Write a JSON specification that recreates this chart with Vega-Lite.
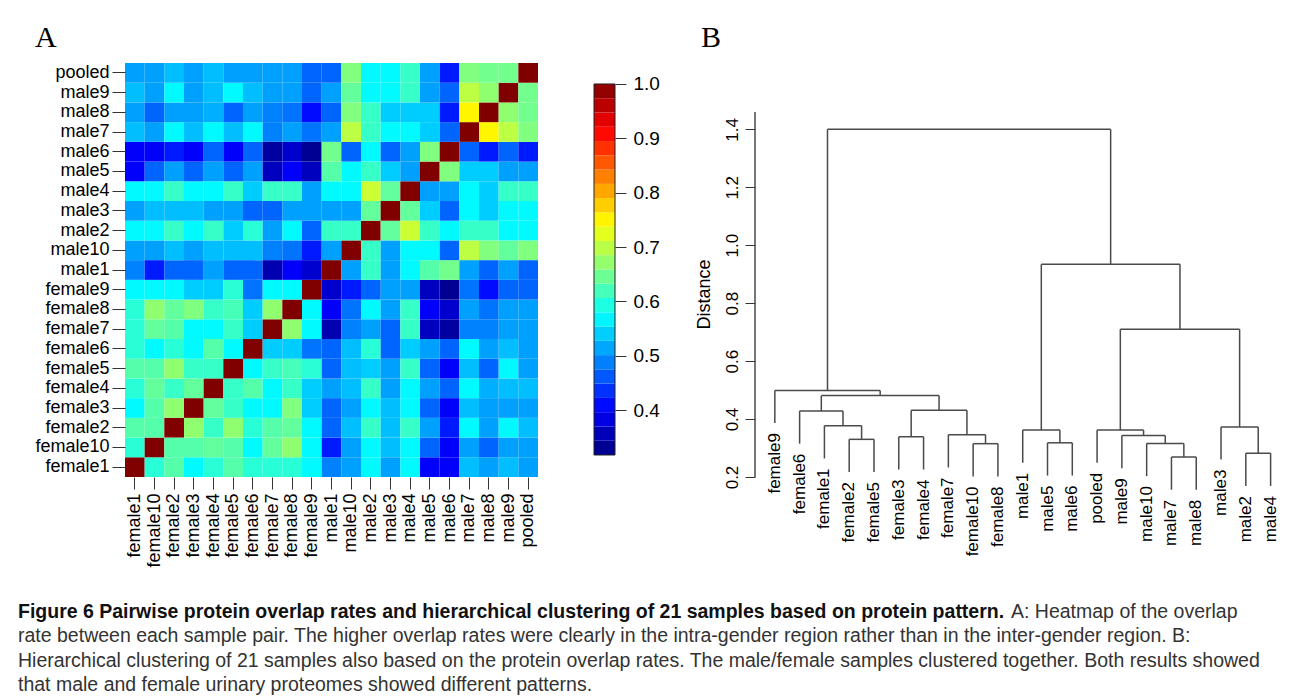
{
  "$schema": "https://vega.github.io/schema/vega-lite/v6.json",
  "padding": {"left": 18, "top": 23, "right": 2, "bottom": 2},
  "background": "white",
  "config": {
    "view": {"stroke": null},
    "font": "Liberation Sans",
    "axis": {"labelFont": "Liberation Sans", "titleFont": "Liberation Sans", "labelColor": "#000", "titleColor": "#000", "tickColor": "#333", "domainColor": "#333", "grid": false},
    "title": {"font": "Liberation Serif", "fontWeight": "normal", "fontSize": 30, "color": "#000", "anchor": "start", "frame": "bounds"}
  },
  "datasets": {
    "heat": [
      {"r":"female1","c":"female1","v":1},{"r":"female1","c":"female10","v":0.60},{"r":"female1","c":"female2","v":0.63},{"r":"female1","c":"female3","v":0.57},{"r":"female1","c":"female4","v":0.60},{"r":"female1","c":"female5","v":0.63},{"r":"female1","c":"female6","v":0.60},{"r":"female1","c":"female7","v":0.60},{"r":"female1","c":"female8","v":0.60},{"r":"female1","c":"female9","v":0.57},{"r":"female1","c":"male1","v":0.49},{"r":"female1","c":"male10","v":0.51},{"r":"female1","c":"male2","v":0.57},{"r":"female1","c":"male3","v":0.51},{"r":"female1","c":"male4","v":0.57},{"r":"female1","c":"male5","v":0.40},{"r":"female1","c":"male6","v":0.40},{"r":"female1","c":"male7","v":0.53},{"r":"female1","c":"male8","v":0.51},{"r":"female1","c":"male9","v":0.53},{"r":"female1","c":"pooled","v":0.51},
      {"r":"female10","c":"female1","v":0.60},{"r":"female10","c":"female10","v":1},{"r":"female10","c":"female2","v":0.63},{"r":"female10","c":"female3","v":0.63},{"r":"female10","c":"female4","v":0.64},{"r":"female10","c":"female5","v":0.63},{"r":"female10","c":"female6","v":0.57},{"r":"female10","c":"female7","v":0.64},{"r":"female10","c":"female8","v":0.67},{"r":"female10","c":"female9","v":0.57},{"r":"female10","c":"male1","v":0.42},{"r":"female10","c":"male10","v":0.51},{"r":"female10","c":"male2","v":0.57},{"r":"female10","c":"male3","v":0.53},{"r":"female10","c":"male4","v":0.57},{"r":"female10","c":"male5","v":0.47},{"r":"female10","c":"male6","v":0.40},{"r":"female10","c":"male7","v":0.51},{"r":"female10","c":"male8","v":0.47},{"r":"female10","c":"male9","v":0.51},{"r":"female10","c":"pooled","v":0.51},
      {"r":"female2","c":"female1","v":0.63},{"r":"female2","c":"female10","v":0.63},{"r":"female2","c":"female2","v":1},{"r":"female2","c":"female3","v":0.67},{"r":"female2","c":"female4","v":0.61},{"r":"female2","c":"female5","v":0.67},{"r":"female2","c":"female6","v":0.60},{"r":"female2","c":"female7","v":0.63},{"r":"female2","c":"female8","v":0.64},{"r":"female2","c":"female9","v":0.57},{"r":"female2","c":"male1","v":0.47},{"r":"female2","c":"male10","v":0.53},{"r":"female2","c":"male2","v":0.61},{"r":"female2","c":"male3","v":0.53},{"r":"female2","c":"male4","v":0.61},{"r":"female2","c":"male5","v":0.51},{"r":"female2","c":"male6","v":0.42},{"r":"female2","c":"male7","v":0.57},{"r":"female2","c":"male8","v":0.51},{"r":"female2","c":"male9","v":0.57},{"r":"female2","c":"pooled","v":0.53},
      {"r":"female3","c":"female1","v":0.57},{"r":"female3","c":"female10","v":0.63},{"r":"female3","c":"female2","v":0.67},{"r":"female3","c":"female3","v":1},{"r":"female3","c":"female4","v":0.64},{"r":"female3","c":"female5","v":0.61},{"r":"female3","c":"female6","v":0.57},{"r":"female3","c":"female7","v":0.57},{"r":"female3","c":"female8","v":0.66},{"r":"female3","c":"female9","v":0.54},{"r":"female3","c":"male1","v":0.47},{"r":"female3","c":"male10","v":0.51},{"r":"female3","c":"male2","v":0.57},{"r":"female3","c":"male3","v":0.53},{"r":"female3","c":"male4","v":0.57},{"r":"female3","c":"male5","v":0.47},{"r":"female3","c":"male6","v":0.40},{"r":"female3","c":"male7","v":0.53},{"r":"female3","c":"male8","v":0.51},{"r":"female3","c":"male9","v":0.51},{"r":"female3","c":"pooled","v":0.51},
      {"r":"female4","c":"female1","v":0.60},{"r":"female4","c":"female10","v":0.64},{"r":"female4","c":"female2","v":0.61},{"r":"female4","c":"female3","v":0.64},{"r":"female4","c":"female4","v":1},{"r":"female4","c":"female5","v":0.61},{"r":"female4","c":"female6","v":0.63},{"r":"female4","c":"female7","v":0.57},{"r":"female4","c":"female8","v":0.61},{"r":"female4","c":"female9","v":0.54},{"r":"female4","c":"male1","v":0.51},{"r":"female4","c":"male10","v":0.53},{"r":"female4","c":"male2","v":0.61},{"r":"female4","c":"male3","v":0.51},{"r":"female4","c":"male4","v":0.57},{"r":"female4","c":"male5","v":0.51},{"r":"female4","c":"male6","v":0.47},{"r":"female4","c":"male7","v":0.57},{"r":"female4","c":"male8","v":0.52},{"r":"female4","c":"male9","v":0.53},{"r":"female4","c":"pooled","v":0.53},
      {"r":"female5","c":"female1","v":0.63},{"r":"female5","c":"female10","v":0.63},{"r":"female5","c":"female2","v":0.67},{"r":"female5","c":"female3","v":0.61},{"r":"female5","c":"female4","v":0.61},{"r":"female5","c":"female5","v":1},{"r":"female5","c":"female6","v":0.57},{"r":"female5","c":"female7","v":0.61},{"r":"female5","c":"female8","v":0.62},{"r":"female5","c":"female9","v":0.60},{"r":"female5","c":"male1","v":0.47},{"r":"female5","c":"male10","v":0.53},{"r":"female5","c":"male2","v":0.54},{"r":"female5","c":"male3","v":0.51},{"r":"female5","c":"male4","v":0.61},{"r":"female5","c":"male5","v":0.47},{"r":"female5","c":"male6","v":0.40},{"r":"female5","c":"male7","v":0.53},{"r":"female5","c":"male8","v":0.47},{"r":"female5","c":"male9","v":0.57},{"r":"female5","c":"pooled","v":0.51},
      {"r":"female6","c":"female1","v":0.60},{"r":"female6","c":"female10","v":0.57},{"r":"female6","c":"female2","v":0.60},{"r":"female6","c":"female3","v":0.57},{"r":"female6","c":"female4","v":0.63},{"r":"female6","c":"female5","v":0.57},{"r":"female6","c":"female6","v":1},{"r":"female6","c":"female7","v":0.54},{"r":"female6","c":"female8","v":0.54},{"r":"female6","c":"female9","v":0.48},{"r":"female6","c":"male1","v":0.47},{"r":"female6","c":"male10","v":0.53},{"r":"female6","c":"male2","v":0.60},{"r":"female6","c":"male3","v":0.47},{"r":"female6","c":"male4","v":0.54},{"r":"female6","c":"male5","v":0.51},{"r":"female6","c":"male6","v":0.47},{"r":"female6","c":"male7","v":0.57},{"r":"female6","c":"male8","v":0.51},{"r":"female6","c":"male9","v":0.53},{"r":"female6","c":"pooled","v":0.51},
      {"r":"female7","c":"female1","v":0.60},{"r":"female7","c":"female10","v":0.64},{"r":"female7","c":"female2","v":0.63},{"r":"female7","c":"female3","v":0.57},{"r":"female7","c":"female4","v":0.57},{"r":"female7","c":"female5","v":0.61},{"r":"female7","c":"female6","v":0.54},{"r":"female7","c":"female7","v":1},{"r":"female7","c":"female8","v":0.67},{"r":"female7","c":"female9","v":0.57},{"r":"female7","c":"male1","v":0.35},{"r":"female7","c":"male10","v":0.49},{"r":"female7","c":"male2","v":0.51},{"r":"female7","c":"male3","v":0.47},{"r":"female7","c":"male4","v":0.61},{"r":"female7","c":"male5","v":0.36},{"r":"female7","c":"male6","v":0.34},{"r":"female7","c":"male7","v":0.49},{"r":"female7","c":"male8","v":0.49},{"r":"female7","c":"male9","v":0.51},{"r":"female7","c":"pooled","v":0.51},
      {"r":"female8","c":"female1","v":0.60},{"r":"female8","c":"female10","v":0.67},{"r":"female8","c":"female2","v":0.64},{"r":"female8","c":"female3","v":0.66},{"r":"female8","c":"female4","v":0.61},{"r":"female8","c":"female5","v":0.62},{"r":"female8","c":"female6","v":0.54},{"r":"female8","c":"female7","v":0.67},{"r":"female8","c":"female8","v":1},{"r":"female8","c":"female9","v":0.57},{"r":"female8","c":"male1","v":0.40},{"r":"female8","c":"male10","v":0.48},{"r":"female8","c":"male2","v":0.57},{"r":"female8","c":"male3","v":0.51},{"r":"female8","c":"male4","v":0.61},{"r":"female8","c":"male5","v":0.40},{"r":"female8","c":"male6","v":0.37},{"r":"female8","c":"male7","v":0.51},{"r":"female8","c":"male8","v":0.48},{"r":"female8","c":"male9","v":0.51},{"r":"female8","c":"pooled","v":0.51},
      {"r":"female9","c":"female1","v":0.57},{"r":"female9","c":"female10","v":0.57},{"r":"female9","c":"female2","v":0.57},{"r":"female9","c":"female3","v":0.54},{"r":"female9","c":"female4","v":0.54},{"r":"female9","c":"female5","v":0.60},{"r":"female9","c":"female6","v":0.48},{"r":"female9","c":"female7","v":0.57},{"r":"female9","c":"female8","v":0.57},{"r":"female9","c":"female9","v":1},{"r":"female9","c":"male1","v":0.37},{"r":"female9","c":"male10","v":0.42},{"r":"female9","c":"male2","v":0.47},{"r":"female9","c":"male3","v":0.51},{"r":"female9","c":"male4","v":0.51},{"r":"female9","c":"male5","v":0.36},{"r":"female9","c":"male6","v":0.33},{"r":"female9","c":"male7","v":0.48},{"r":"female9","c":"male8","v":0.41},{"r":"female9","c":"male9","v":0.47},{"r":"female9","c":"pooled","v":0.47},
      {"r":"male1","c":"female1","v":0.49},{"r":"male1","c":"female10","v":0.42},{"r":"male1","c":"female2","v":0.47},{"r":"male1","c":"female3","v":0.47},{"r":"male1","c":"female4","v":0.51},{"r":"male1","c":"female5","v":0.47},{"r":"male1","c":"female6","v":0.47},{"r":"male1","c":"female7","v":0.35},{"r":"male1","c":"female8","v":0.40},{"r":"male1","c":"female9","v":0.37},{"r":"male1","c":"male1","v":1},{"r":"male1","c":"male10","v":0.51},{"r":"male1","c":"male2","v":0.61},{"r":"male1","c":"male3","v":0.51},{"r":"male1","c":"male4","v":0.57},{"r":"male1","c":"male5","v":0.63},{"r":"male1","c":"male6","v":0.65},{"r":"male1","c":"male7","v":0.51},{"r":"male1","c":"male8","v":0.47},{"r":"male1","c":"male9","v":0.51},{"r":"male1","c":"pooled","v":0.47},
      {"r":"male10","c":"female1","v":0.51},{"r":"male10","c":"female10","v":0.51},{"r":"male10","c":"female2","v":0.53},{"r":"male10","c":"female3","v":0.51},{"r":"male10","c":"female4","v":0.53},{"r":"male10","c":"female5","v":0.53},{"r":"male10","c":"female6","v":0.53},{"r":"male10","c":"female7","v":0.49},{"r":"male10","c":"female8","v":0.48},{"r":"male10","c":"female9","v":0.42},{"r":"male10","c":"male1","v":0.51},{"r":"male10","c":"male10","v":1},{"r":"male10","c":"male2","v":0.61},{"r":"male10","c":"male3","v":0.51},{"r":"male10","c":"male4","v":0.57},{"r":"male10","c":"male5","v":0.57},{"r":"male10","c":"male6","v":0.47},{"r":"male10","c":"male7","v":0.70},{"r":"male10","c":"male8","v":0.66},{"r":"male10","c":"male9","v":0.64},{"r":"male10","c":"pooled","v":0.66},
      {"r":"male2","c":"female1","v":0.57},{"r":"male2","c":"female10","v":0.57},{"r":"male2","c":"female2","v":0.61},{"r":"male2","c":"female3","v":0.57},{"r":"male2","c":"female4","v":0.61},{"r":"male2","c":"female5","v":0.54},{"r":"male2","c":"female6","v":0.60},{"r":"male2","c":"female7","v":0.51},{"r":"male2","c":"female8","v":0.57},{"r":"male2","c":"female9","v":0.47},{"r":"male2","c":"male1","v":0.61},{"r":"male2","c":"male10","v":0.61},{"r":"male2","c":"male2","v":1},{"r":"male2","c":"male3","v":0.64},{"r":"male2","c":"male4","v":0.71},{"r":"male2","c":"male5","v":0.61},{"r":"male2","c":"male6","v":0.57},{"r":"male2","c":"male7","v":0.61},{"r":"male2","c":"male8","v":0.61},{"r":"male2","c":"male9","v":0.57},{"r":"male2","c":"pooled","v":0.57},
      {"r":"male3","c":"female1","v":0.51},{"r":"male3","c":"female10","v":0.53},{"r":"male3","c":"female2","v":0.53},{"r":"male3","c":"female3","v":0.53},{"r":"male3","c":"female4","v":0.51},{"r":"male3","c":"female5","v":0.51},{"r":"male3","c":"female6","v":0.47},{"r":"male3","c":"female7","v":0.47},{"r":"male3","c":"female8","v":0.51},{"r":"male3","c":"female9","v":0.51},{"r":"male3","c":"male1","v":0.51},{"r":"male3","c":"male10","v":0.51},{"r":"male3","c":"male2","v":0.64},{"r":"male3","c":"male3","v":1},{"r":"male3","c":"male4","v":0.64},{"r":"male3","c":"male5","v":0.54},{"r":"male3","c":"male6","v":0.47},{"r":"male3","c":"male7","v":0.57},{"r":"male3","c":"male8","v":0.54},{"r":"male3","c":"male9","v":0.57},{"r":"male3","c":"pooled","v":0.57},
      {"r":"male4","c":"female1","v":0.57},{"r":"male4","c":"female10","v":0.57},{"r":"male4","c":"female2","v":0.61},{"r":"male4","c":"female3","v":0.57},{"r":"male4","c":"female4","v":0.57},{"r":"male4","c":"female5","v":0.61},{"r":"male4","c":"female6","v":0.54},{"r":"male4","c":"female7","v":0.61},{"r":"male4","c":"female8","v":0.61},{"r":"male4","c":"female9","v":0.51},{"r":"male4","c":"male1","v":0.57},{"r":"male4","c":"male10","v":0.57},{"r":"male4","c":"male2","v":0.71},{"r":"male4","c":"male3","v":0.64},{"r":"male4","c":"male4","v":1},{"r":"male4","c":"male5","v":0.51},{"r":"male4","c":"male6","v":0.51},{"r":"male4","c":"male7","v":0.57},{"r":"male4","c":"male8","v":0.54},{"r":"male4","c":"male9","v":0.61},{"r":"male4","c":"pooled","v":0.61},
      {"r":"male5","c":"female1","v":0.40},{"r":"male5","c":"female10","v":0.47},{"r":"male5","c":"female2","v":0.51},{"r":"male5","c":"female3","v":0.47},{"r":"male5","c":"female4","v":0.51},{"r":"male5","c":"female5","v":0.47},{"r":"male5","c":"female6","v":0.51},{"r":"male5","c":"female7","v":0.36},{"r":"male5","c":"female8","v":0.40},{"r":"male5","c":"female9","v":0.36},{"r":"male5","c":"male1","v":0.63},{"r":"male5","c":"male10","v":0.57},{"r":"male5","c":"male2","v":0.61},{"r":"male5","c":"male3","v":0.54},{"r":"male5","c":"male4","v":0.51},{"r":"male5","c":"male5","v":1},{"r":"male5","c":"male6","v":0.66},{"r":"male5","c":"male7","v":0.54},{"r":"male5","c":"male8","v":0.54},{"r":"male5","c":"male9","v":0.51},{"r":"male5","c":"pooled","v":0.51},
      {"r":"male6","c":"female1","v":0.40},{"r":"male6","c":"female10","v":0.40},{"r":"male6","c":"female2","v":0.42},{"r":"male6","c":"female3","v":0.40},{"r":"male6","c":"female4","v":0.47},{"r":"male6","c":"female5","v":0.40},{"r":"male6","c":"female6","v":0.47},{"r":"male6","c":"female7","v":0.34},{"r":"male6","c":"female8","v":0.37},{"r":"male6","c":"female9","v":0.33},{"r":"male6","c":"male1","v":0.65},{"r":"male6","c":"male10","v":0.47},{"r":"male6","c":"male2","v":0.57},{"r":"male6","c":"male3","v":0.47},{"r":"male6","c":"male4","v":0.51},{"r":"male6","c":"male5","v":0.66},{"r":"male6","c":"male6","v":1},{"r":"male6","c":"male7","v":0.47},{"r":"male6","c":"male8","v":0.42},{"r":"male6","c":"male9","v":0.47},{"r":"male6","c":"pooled","v":0.42},
      {"r":"male7","c":"female1","v":0.53},{"r":"male7","c":"female10","v":0.51},{"r":"male7","c":"female2","v":0.57},{"r":"male7","c":"female3","v":0.53},{"r":"male7","c":"female4","v":0.57},{"r":"male7","c":"female5","v":0.53},{"r":"male7","c":"female6","v":0.57},{"r":"male7","c":"female7","v":0.49},{"r":"male7","c":"female8","v":0.51},{"r":"male7","c":"female9","v":0.48},{"r":"male7","c":"male1","v":0.51},{"r":"male7","c":"male10","v":0.70},{"r":"male7","c":"male2","v":0.61},{"r":"male7","c":"male3","v":0.57},{"r":"male7","c":"male4","v":0.57},{"r":"male7","c":"male5","v":0.54},{"r":"male7","c":"male6","v":0.47},{"r":"male7","c":"male7","v":1},{"r":"male7","c":"male8","v":0.75},{"r":"male7","c":"male9","v":0.70},{"r":"male7","c":"pooled","v":0.66},
      {"r":"male8","c":"female1","v":0.51},{"r":"male8","c":"female10","v":0.47},{"r":"male8","c":"female2","v":0.51},{"r":"male8","c":"female3","v":0.51},{"r":"male8","c":"female4","v":0.52},{"r":"male8","c":"female5","v":0.47},{"r":"male8","c":"female6","v":0.51},{"r":"male8","c":"female7","v":0.49},{"r":"male8","c":"female8","v":0.48},{"r":"male8","c":"female9","v":0.41},{"r":"male8","c":"male1","v":0.47},{"r":"male8","c":"male10","v":0.66},{"r":"male8","c":"male2","v":0.61},{"r":"male8","c":"male3","v":0.54},{"r":"male8","c":"male4","v":0.54},{"r":"male8","c":"male5","v":0.54},{"r":"male8","c":"male6","v":0.42},{"r":"male8","c":"male7","v":0.75},{"r":"male8","c":"male8","v":1},{"r":"male8","c":"male9","v":0.67},{"r":"male8","c":"pooled","v":0.65},
      {"r":"male9","c":"female1","v":0.53},{"r":"male9","c":"female10","v":0.51},{"r":"male9","c":"female2","v":0.57},{"r":"male9","c":"female3","v":0.51},{"r":"male9","c":"female4","v":0.53},{"r":"male9","c":"female5","v":0.57},{"r":"male9","c":"female6","v":0.53},{"r":"male9","c":"female7","v":0.51},{"r":"male9","c":"female8","v":0.51},{"r":"male9","c":"female9","v":0.47},{"r":"male9","c":"male1","v":0.51},{"r":"male9","c":"male10","v":0.64},{"r":"male9","c":"male2","v":0.57},{"r":"male9","c":"male3","v":0.57},{"r":"male9","c":"male4","v":0.61},{"r":"male9","c":"male5","v":0.51},{"r":"male9","c":"male6","v":0.47},{"r":"male9","c":"male7","v":0.70},{"r":"male9","c":"male8","v":0.67},{"r":"male9","c":"male9","v":1},{"r":"male9","c":"pooled","v":0.65},
      {"r":"pooled","c":"female1","v":0.51},{"r":"pooled","c":"female10","v":0.51},{"r":"pooled","c":"female2","v":0.53},{"r":"pooled","c":"female3","v":0.51},{"r":"pooled","c":"female4","v":0.53},{"r":"pooled","c":"female5","v":0.51},{"r":"pooled","c":"female6","v":0.51},{"r":"pooled","c":"female7","v":0.51},{"r":"pooled","c":"female8","v":0.51},{"r":"pooled","c":"female9","v":0.47},{"r":"pooled","c":"male1","v":0.47},{"r":"pooled","c":"male10","v":0.66},{"r":"pooled","c":"male2","v":0.57},{"r":"pooled","c":"male3","v":0.57},{"r":"pooled","c":"male4","v":0.61},{"r":"pooled","c":"male5","v":0.51},{"r":"pooled","c":"male6","v":0.42},{"r":"pooled","c":"male7","v":0.66},{"r":"pooled","c":"male8","v":0.65},{"r":"pooled","c":"male9","v":0.65},{"r":"pooled","c":"pooled","v":1}
    ],
    "bins": [
      {"lo":0.3175,"hi":0.34375,"mid":0.330625},{"lo":0.34375,"hi":0.37,"mid":0.356875},{"lo":0.37,"hi":0.39625,"mid":0.383125},{"lo":0.39625,"hi":0.4225,"mid":0.409375},{"lo":0.4225,"hi":0.44875,"mid":0.435625},{"lo":0.44875,"hi":0.475,"mid":0.461875},{"lo":0.475,"hi":0.50125,"mid":0.488125},{"lo":0.50125,"hi":0.5275,"mid":0.514375},{"lo":0.5275,"hi":0.55375,"mid":0.540625},{"lo":0.55375,"hi":0.58,"mid":0.566875},{"lo":0.58,"hi":0.60625,"mid":0.593125},{"lo":0.60625,"hi":0.6325,"mid":0.619375},{"lo":0.6325,"hi":0.65875,"mid":0.645625},{"lo":0.65875,"hi":0.685,"mid":0.671875},{"lo":0.685,"hi":0.71125,"mid":0.698125},{"lo":0.71125,"hi":0.7375,"mid":0.724375},{"lo":0.7375,"hi":0.76375,"mid":0.750625},{"lo":0.76375,"hi":0.79,"mid":0.776875},{"lo":0.79,"hi":0.81625,"mid":0.803125},{"lo":0.81625,"hi":0.8425,"mid":0.829375},{"lo":0.8425,"hi":0.86875,"mid":0.855625},{"lo":0.86875,"hi":0.895,"mid":0.881875},{"lo":0.895,"hi":0.92125,"mid":0.908125},{"lo":0.92125,"hi":0.9475,"mid":0.934375},{"lo":0.9475,"hi":0.97375,"mid":0.960625},{"lo":0.97375,"hi":1.0,"mid":0.986875}
    ],
    "segs": [
      {"x":4,"x2":5,"y":0.330,"y2":0.330},{"x":4,"x2":4,"y":0.217,"y2":0.330},{"x":5,"x2":5,"y":0.217,"y2":0.330},
      {"x":3,"x2":4.5,"y":0.377,"y2":0.377},{"x":3,"x2":3,"y":0.264,"y2":0.377},{"x":4.5,"x2":4.5,"y":0.330,"y2":0.377},
      {"x":2,"x2":3.75,"y":0.428,"y2":0.428},{"x":2,"x2":2,"y":0.315,"y2":0.428},{"x":3.75,"x2":3.75,"y":0.377,"y2":0.428},
      {"x":6,"x2":7,"y":0.339,"y2":0.339},{"x":6,"x2":6,"y":0.226,"y2":0.339},{"x":7,"x2":7,"y":0.226,"y2":0.339},
      {"x":9,"x2":10,"y":0.315,"y2":0.315},{"x":9,"x2":9,"y":0.202,"y2":0.315},{"x":10,"x2":10,"y":0.202,"y2":0.315},
      {"x":8,"x2":9.5,"y":0.346,"y2":0.346},{"x":8,"x2":8,"y":0.233,"y2":0.346},{"x":9.5,"x2":9.5,"y":0.315,"y2":0.346},
      {"x":6.5,"x2":8.75,"y":0.430,"y2":0.430},{"x":6.5,"x2":6.5,"y":0.339,"y2":0.430},{"x":8.75,"x2":8.75,"y":0.346,"y2":0.430},
      {"x":2.875,"x2":7.625,"y":0.481,"y2":0.481},{"x":2.875,"x2":2.875,"y":0.428,"y2":0.481},{"x":7.625,"x2":7.625,"y":0.430,"y2":0.481},
      {"x":1,"x2":5.25,"y":0.499,"y2":0.499},{"x":1,"x2":1,"y":0.386,"y2":0.499},{"x":5.25,"x2":5.25,"y":0.481,"y2":0.499},
      {"x":12,"x2":13,"y":0.318,"y2":0.318},{"x":12,"x2":12,"y":0.205,"y2":0.318},{"x":13,"x2":13,"y":0.205,"y2":0.318},
      {"x":11,"x2":12.5,"y":0.362,"y2":0.362},{"x":11,"x2":11,"y":0.249,"y2":0.362},{"x":12.5,"x2":12.5,"y":0.318,"y2":0.362},
      {"x":17,"x2":18,"y":0.269,"y2":0.269},{"x":17,"x2":17,"y":0.156,"y2":0.269},{"x":18,"x2":18,"y":0.156,"y2":0.269},
      {"x":16,"x2":17.5,"y":0.316,"y2":0.316},{"x":16,"x2":16,"y":0.203,"y2":0.316},{"x":17.5,"x2":17.5,"y":0.269,"y2":0.316},
      {"x":15,"x2":16.75,"y":0.343,"y2":0.343},{"x":15,"x2":15,"y":0.230,"y2":0.343},{"x":16.75,"x2":16.75,"y":0.316,"y2":0.343},
      {"x":14,"x2":15.875,"y":0.362,"y2":0.362},{"x":14,"x2":14,"y":0.249,"y2":0.362},{"x":15.875,"x2":15.875,"y":0.343,"y2":0.362},
      {"x":20,"x2":21,"y":0.282,"y2":0.282},{"x":20,"x2":20,"y":0.169,"y2":0.282},{"x":21,"x2":21,"y":0.169,"y2":0.282},
      {"x":19,"x2":20.5,"y":0.373,"y2":0.373},{"x":19,"x2":19,"y":0.260,"y2":0.373},{"x":20.5,"x2":20.5,"y":0.282,"y2":0.373},
      {"x":14.9375,"x2":19.75,"y":0.710,"y2":0.710},{"x":14.9375,"x2":14.9375,"y":0.362,"y2":0.710},{"x":19.75,"x2":19.75,"y":0.373,"y2":0.710},
      {"x":11.75,"x2":17.34375,"y":0.934,"y2":0.934},{"x":11.75,"x2":11.75,"y":0.362,"y2":0.934},{"x":17.34375,"x2":17.34375,"y":0.710,"y2":0.934},
      {"x":3.125,"x2":14.546875,"y":1.4,"y2":1.4},{"x":3.125,"x2":3.125,"y":0.499,"y2":1.4},{"x":14.546875,"x2":14.546875,"y":0.934,"y2":1.4}
    ],
    "leaves": [
      {"pos":1,"leaf":"female9","bottom":0.386},{"pos":2,"leaf":"female6","bottom":0.315},{"pos":3,"leaf":"female1","bottom":0.264},{"pos":4,"leaf":"female2","bottom":0.217},{"pos":5,"leaf":"female5","bottom":0.217},{"pos":6,"leaf":"female3","bottom":0.226},{"pos":7,"leaf":"female4","bottom":0.226},{"pos":8,"leaf":"female7","bottom":0.233},{"pos":9,"leaf":"female10","bottom":0.202},{"pos":10,"leaf":"female8","bottom":0.202},{"pos":11,"leaf":"male1","bottom":0.249},{"pos":12,"leaf":"male5","bottom":0.205},{"pos":13,"leaf":"male6","bottom":0.205},{"pos":14,"leaf":"pooled","bottom":0.249},{"pos":15,"leaf":"male9","bottom":0.230},{"pos":16,"leaf":"male10","bottom":0.203},{"pos":17,"leaf":"male7","bottom":0.156},{"pos":18,"leaf":"male8","bottom":0.156},{"pos":19,"leaf":"male3","bottom":0.260},{"pos":20,"leaf":"male2","bottom":0.169},{"pos":21,"leaf":"male4","bottom":0.169}
    ],
    "caption": [
      {"line":1,"part":"head","text":"Figure 6 Pairwise protein overlap rates and hierarchical clustering of 21 samples based on protein pattern."},
      {"line":1,"part":"body1","text":"A: Heatmap of the overlap"},
      {"line":2,"part":"body","text":"rate between each sample pair. The higher overlap rates were clearly in the intra-gender region rather than in the inter-gender region. B:"},
      {"line":3,"part":"body","text":"Hierarchical clustering of 21 samples also based on the protein overlap rates. The male/female samples clustered together. Both results showed"},
      {"line":4,"part":"body","text":"that male and female urinary proteomes showed different patterns."}
    ]
  },
  "vconcat": [
    {
      "hconcat": [
        {
          "hconcat": [
            {
              "width": 413,
              "height": 414,
              "title": {"text": "A", "offset": 10},
              "data": {"name": "heat"},
              "mark": {"type": "rect"},
              "encoding": {
                "x": {"field": "c", "type": "nominal",
                  "sort": ["female1","female10","female2","female3","female4","female5","female6","female7","female8","female9","male1","male10","male2","male3","male4","male5","male6","male7","male8","male9","pooled"],
                  "scale": {"paddingInner": 0, "paddingOuter": 0},
                  "axis": {"title": null, "labelAngle": 270, "labelFontSize": 18, "tickSize": 12, "labelPadding": 4, "domain": false}},
                "y": {"field": "r", "type": "nominal",
                  "sort": ["pooled","male9","male8","male7","male6","male5","male4","male3","male2","male10","male1","female9","female8","female7","female6","female5","female4","female3","female2","female10","female1"],
                  "scale": {"paddingInner": 0, "paddingOuter": 0},
                  "axis": {"title": null, "labelFontSize": 18, "tickSize": 13, "labelPadding": 3, "domain": false}},
                "color": {"field": "v", "type": "quantitative",
                  "scale": {"type": "linear", "domain": [0.3175, 0.40281, 0.57344, 0.74406, 0.91469, 1.0], "range": ["#000080", "#0000ff", "#00ffff", "#ffff00", "#ff0000", "#800000"], "interpolate": "rgb", "clamp": true},
                  "legend": null}
              }
            },
            {
              "width": 21,
              "height": 414,
              "layer": [
                {
                  "data": {"name": "bins"},
                  "mark": {"type": "rect", "strokeWidth": 0},
                  "encoding": {
                    "y": {"field": "lo", "type": "quantitative",
                      "scale": {"domain": [0.277, 1.0386], "nice": false, "zero": false},
                      "axis": {"orient": "right", "values": [0.4, 0.5, 0.6, 0.7, 0.8, 0.9, 1.0], "format": ".1f", "title": null, "domain": false, "tickSize": 11, "labelPadding": 7, "labelFontSize": 19}},
                    "y2": {"field": "hi"},
                    "color": {"field": "mid", "type": "quantitative",
                      "scale": {"type": "linear", "domain": [0.3175, 0.40281, 0.57344, 0.74406, 0.91469, 1.0], "range": ["#000080", "#0000ff", "#00ffff", "#ffff00", "#ff0000", "#800000"], "interpolate": "rgb", "clamp": true},
                      "legend": null}
                  }
                },
                {
                  "data": {"values": [{"lo": 0.3175, "hi": 1.0}]},
                  "mark": {"type": "rect", "filled": false, "stroke": "#222", "strokeWidth": 1},
                  "encoding": {
                    "y": {"field": "lo", "type": "quantitative"},
                    "y2": {"field": "hi"}
                  }
                }
              ]
            }
          ],
          "spacing": 54
        },
        {
          "width": 528,
          "height": 414,
          "title": {"text": "B", "offset": 10, "dx": 6},
          "layer": [
            {
              "data": {"name": "segs"},
              "mark": {"type": "rule", "color": "#4a4a4a", "strokeWidth": 1.5},
              "encoding": {
                "x": {"field": "x", "type": "quantitative", "scale": {"domain": [0.2, 21.5], "nice": false, "zero": false}, "axis": null},
                "x2": {"field": "x2"},
                "y": {"field": "y", "type": "quantitative", "scale": {"domain": [0.2, 1.629], "nice": false, "zero": false},
                  "axis": {"title": "Distance", "values": [0.2, 0.4, 0.6, 0.8, 1.0, 1.2, 1.4], "format": ".1f", "labelAngle": 270, "labelAlign": "center", "labelBaseline": "bottom", "labelFontSize": 17, "tickSize": 10, "labelPadding": 4, "domain": false, "titleFontSize": 18, "titleFontWeight": "normal", "titlePadding": 10, "titleY": 231}},
                "y2": {"field": "y2"}
              }
            },
            {
              "data": {"name": "leaves"},
              "mark": {"type": "text", "angle": 270, "align": "right", "baseline": "middle", "dx": -10, "fontSize": 17, "font": "Liberation Sans", "color": "#000"},
              "encoding": {
                "x": {"field": "pos", "type": "quantitative"},
                "y": {"field": "bottom", "type": "quantitative"},
                "text": {"field": "leaf"}
              }
            },
            {
              "data": {"values": [{}]},
              "mark": {"type": "rule", "color": "#4a4a4a", "strokeWidth": 1.5},
              "encoding": {
                "x": {"datum": 0.2},
                "y": {"datum": 0.2},
                "y2": {"datum": 1.46}
              }
            }
          ]
        }
      ],
      "spacing": 34
    },
    {
      "width": 1150,
      "height": 73,
      "data": {"name": "caption"},
      "encoding": {
        "x": {"datum": 0, "type": "quantitative", "scale": {"domain": [0, 1]}, "axis": null},
        "y": {"field": "line", "type": "quantitative", "scale": {"domain": [1, 4], "reverse": true, "nice": false, "zero": false}, "axis": null},
        "text": {"field": "text"}
      },
      "layer": [
        {
          "transform": [{"filter": "datum.part == 'head'"}],
          "mark": {"type": "text", "align": "left", "baseline": "middle", "fontWeight": "bold", "fontSize": 19.5, "font": "Liberation Sans", "dx": -107, "color": "#111"}
        },
        {
          "transform": [{"filter": "datum.part == 'body1'"}],
          "mark": {"type": "text", "align": "left", "baseline": "middle", "fontSize": 19.5, "font": "Liberation Sans", "dx": 886, "color": "#333"}
        },
        {
          "transform": [{"filter": "datum.part == 'body'"}],
          "mark": {"type": "text", "align": "left", "baseline": "middle", "fontSize": 19.5, "font": "Liberation Sans", "dx": -107, "color": "#333"}
        }
      ]
    }
  ],
  "spacing": 34
}
